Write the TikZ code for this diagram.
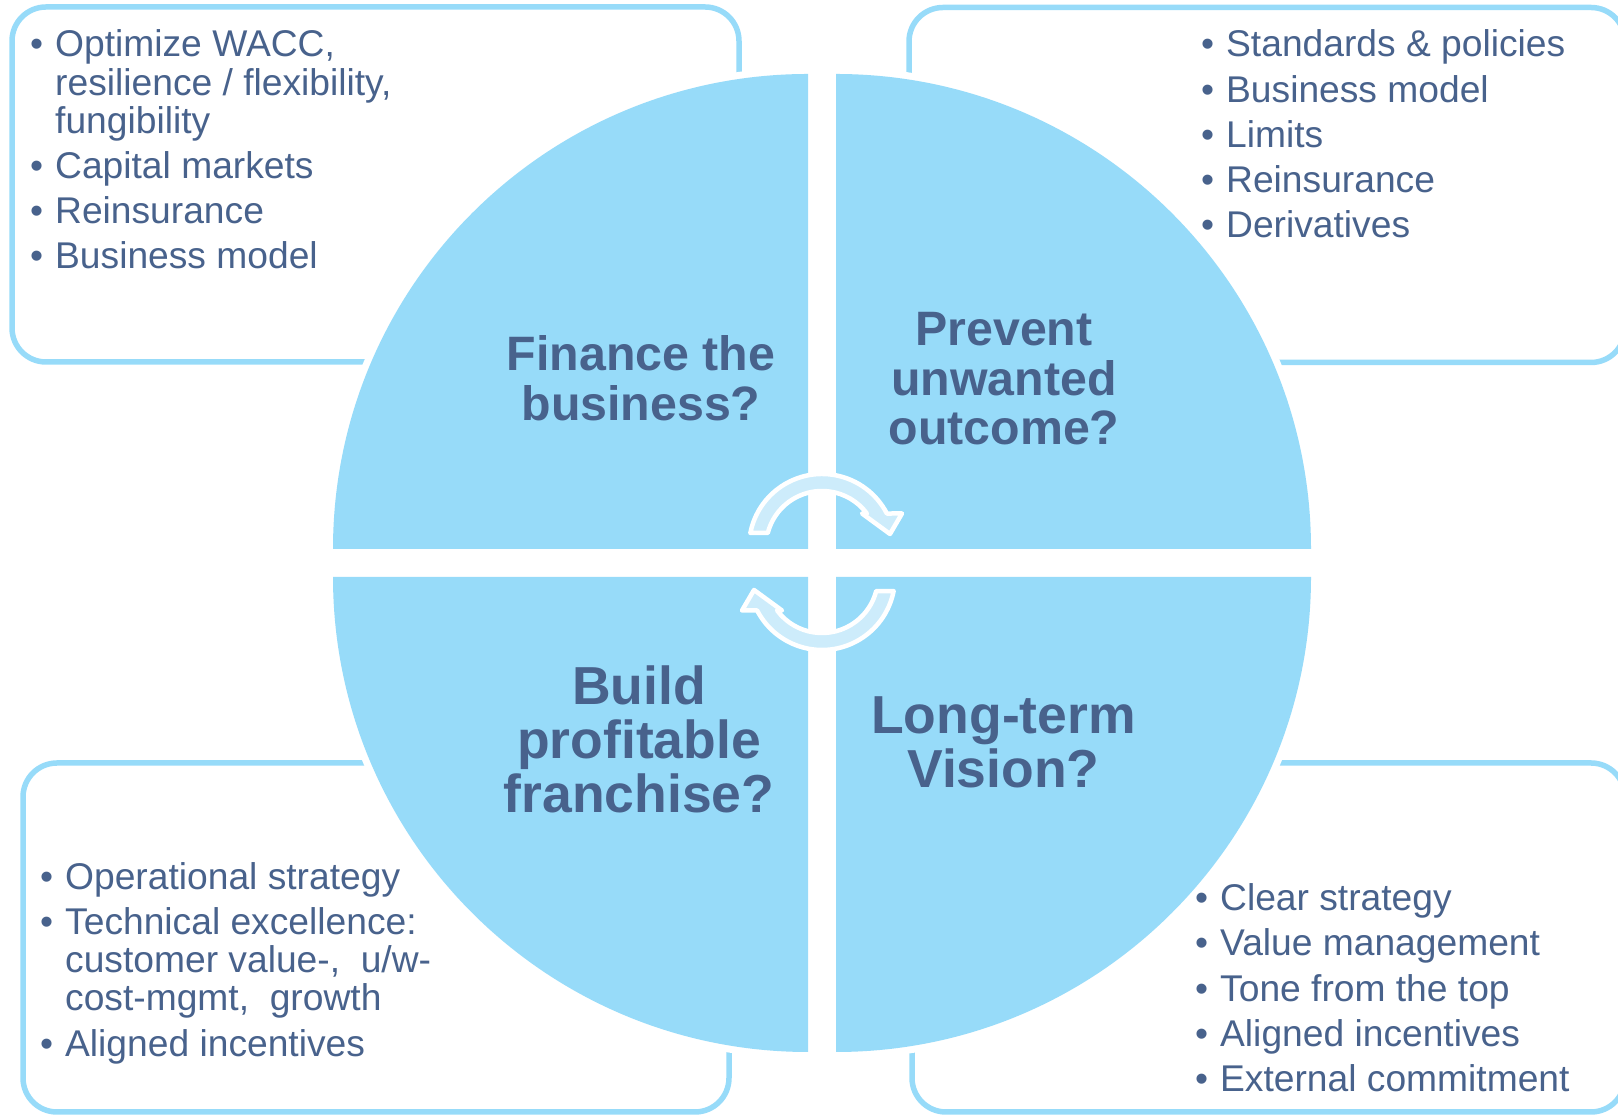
\documentclass[tikz,border=0pt]{standalone}
\usepackage{fontspec}
\setmainfont{Liberation Sans}
\definecolor{qblue}{RGB}{151,219,249}
\definecolor{frameblue}{RGB}{151,219,249}
\definecolor{arrowfill}{RGB}{205,236,251}
\definecolor{ink}{RGB}{72,98,140}

% one bullet item with a hanging indent for wrapped lines (break lines with \newline)
\newcommand{\bul}[1]{\par\hangindent=25pt\hangafter=1\noindent\makebox[25pt][l]{\textbullet}#1}
% a bullet list set with its first baseline as the box baseline
\newcommand{\blist}[1]{\parbox[t]{700pt}{\setlength{\parskip}{7pt}\raggedright #1}}
\newcommand{\ctitle}[1]{\parbox[t]{440pt}{\centering #1}}

\begin{document}
\begin{tikzpicture}[x=1pt,y=1pt,
  framebox/.style={draw=frameblue, line width=5.5pt, fill=white, rounded corners=34pt},
  listtext/.style={inner sep=0pt, anchor=base west, text=ink,
    font=\fontsize{37.2}{38.2}\selectfont},
  toptitle/.style={inner sep=0pt, anchor=base, text=ink,
    font=\fontsize{48.3}{49.5}\selectfont\bfseries},
  bottomtitle/.style={inner sep=0pt, anchor=base, text=ink,
    font=\fontsize{53.5}{54}\selectfont\bfseries},
  cyclearrow/.style={fill=arrowfill, draw=white, line width=4.5pt, line join=round}]
\useasboundingbox (0,0) rectangle (1618,1115);
\clip (0,0) rectangle (1618,1115);

% rounded frames behind the circle
\draw[framebox] (12,753) rectangle (739,1108);
\draw[framebox] (909,752.5) rectangle (1625,1107.5);
\draw[framebox] (23,3) rectangle (729,352);
\draw[framebox] (912,3) rectangle (1625,352);

% four quarter discs, each with a white margin over the frames
\foreach \cx/\cy/\a in {808/566/90, 836/566/0, 808/538/180, 836/538/270}{
  \fill[white] (\cx,\cy) -- ++(\a:482pt) arc[start angle=\a, delta angle=90, radius=482pt] -- cycle;
  \fill[qblue] (\cx,\cy) -- ++(\a:475pt) arc[start angle=\a, delta angle=90, radius=475pt] -- cycle;
}

% two curved arrows around the centre
\begin{scope}[shift={(822,553)}]
  \foreach \r in {0,180}{
    \begin{scope}[rotate=\r, shift={(0,15)}]
      \path[cyclearrow] (168.9:73pt) arc[start angle=168.9, end angle=27.3, radius=73pt]
        -- (80,33.5) -- (68,13) -- (40,33.5)
        -- (36.7:56pt) arc[start angle=36.7, end angle=165.5, radius=56pt] -- cycle;
    \end{scope}
  }
\end{scope}

% quadrant titles
\node[toptitle] (finance) at (641,744.3) {\ctitle{Finance the\\business?}};
\node[toptitle] (prevent) at (1004,769.3) {\ctitle{Prevent\\unwanted\\outcome?}};
\node[bottomtitle] (build) at (639,410) {\ctitle{Build\\profitable\\franchise?}};
\node[bottomtitle] (vision) at (1003.5,381.7) {\ctitle{Long-term\\Vision?}};

% bullet lists
\node[listtext] (financelist) at (30,1058) {\blist{%
  \bul{Optimize WACC,\newline resilience / flexibility,\newline fungibility}
  \bul{Capital markets}
  \bul{Reinsurance}
  \bul{Business model}}};
\node[listtext] (preventlist) at (1201,1058) {\blist{%
  \bul{Standards \& policies}
  \bul{Business model}
  \bul{Limits}
  \bul{Reinsurance}
  \bul{Derivatives}}};
\node[listtext] (buildlist) at (40,225.7) {\blist{%
  \bul{Operational strategy}
  \bul{Technical excellence:\newline customer value-,\ \ u/w-\newline cost-mgmt,\ \ growth}
  \bul{Aligned incentives}}};
\node[listtext] (visionlist) at (1195,204.3) {\blist{%
  \bul{Clear strategy}
  \bul{Value management}
  \bul{Tone from the top}
  \bul{Aligned incentives}
  \bul{External commitment}}};
\end{tikzpicture}
\end{document}
